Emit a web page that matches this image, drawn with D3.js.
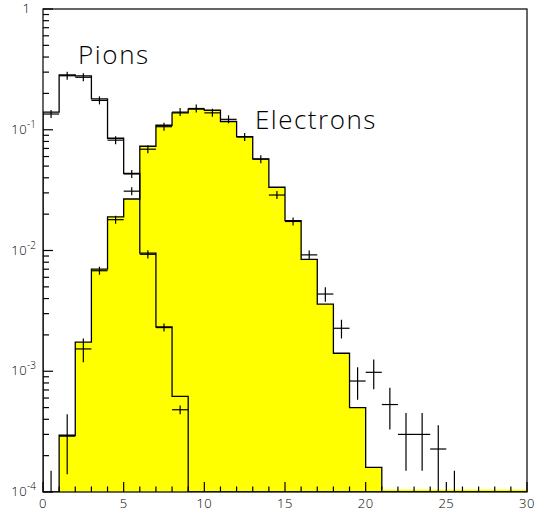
<!DOCTYPE html>
<html><head><meta charset="utf-8">
<script src="https://cdn.jsdelivr.net/npm/d3@7"></script>
<style>
html,body{margin:0;padding:0;background:#fff;}
svg{display:block;}
text{font-family:"Open Sans","Lato","DejaVu Sans",sans-serif;font-weight:300;fill:#000;}
</style></head>
<body>
<svg id="c" width="535" height="514"></svg>
<script>
// ---- data ----
const binEdgesStart = 0;          // first bin low edge
const binWidth = 1;
const xTicks = [0, 5, 10, 15, 20, 25, 30];
const yTickExps = [0, -1, -2, -3, -4];
const yTickLabels = ["1", "10|-1", "10|-2", "10|-3", "10|-4"];

// Pion histogram (bins 0..8, then empty)
const pionHist = [0.140, 0.284, 0.279, 0.180, 0.085, 0.0436, 0.0095, 0.00233, 0.00062,
  0, 0, 0, 0, 0, 0, 0, 0, 0, 0, 0, 0, 0, 0, 0, 0, 0, 0, 0, 0, 0];
// Pion data points
const pionX   = [0.5, 1.5, 2.5, 3.5, 4.5, 5.5, 6.5, 7.5, 8.5];
const pionY   = [0.135, 0.280, 0.272, 0.175, 0.082, 0.043, 0.0093, 0.0023, 0.00048];
const pionErr = [0.010, 0.018, 0.018, 0.012, 0.006, 0.003, 0.0007, 0.00017, 0.00004];

// Electron histogram (filled)
const elecHist = [0, 0.000295, 0.00174, 0.0070, 0.0190, 0.0267, 0.073, 0.109, 0.138, 0.148,
  0.145, 0.117, 0.0876, 0.0573, 0.0334, 0.0177, 0.00845, 0.0036, 0.00141, 0.00050,
  0.00016, 0, 0, 0, 0, 0, 0, 0, 0, 0];
// Electron data points
const elecX   = [0.5, 1.5, 2.5, 3.5, 4.5, 5.5, 6.5, 7.5, 8.5, 9.5, 10.5, 11.5, 12.5, 13.5,
  14.5, 15.5, 16.5, 17.5, 18.5, 19.5, 20.5, 21.5, 22.5, 23.5, 24.5, 25.5];
const elecY   = [0.000075, 0.00029, 0.00153, 0.0068, 0.018, 0.031, 0.069, 0.106, 0.140, 0.150,
  0.138, 0.122, 0.087, 0.057, 0.0288, 0.0174, 0.0092, 0.00436, 0.00227, 0.00083,
  0.00098, 0.00053, 0.00030, 0.00030, 0.000227, 0.000075];
const elecErr = [0.000075, 0.00015, 0.00034, 0.0005, 0.0013, 0.002, 0.004, 0.006, 0.007, 0.007,
  0.007, 0.006, 0.005, 0.0035, 0.002, 0.0013, 0.0008, 0.0006, 0.0004, 0.00025,
  0.00027, 0.0002, 0.00015, 0.00015, 0.00013, 0.000075];

// ---- layout ----
const L = 43, R = 527, T = 9, B = 492;
const svg = d3.select("#c");
const x = d3.scaleLinear().domain([0, 30]).range([L, R]);
const y = d3.scaleLog().domain([1e-4, 1]).range([B, T]);
const yv = v => v > 1e-4 ? y(v) : B;

svg.append("defs").append("clipPath").attr("id", "clip")
  .append("rect").attr("x", L).attr("y", T).attr("width", R - L).attr("height", B - T);

const g = svg.append("g").attr("clip-path", "url(#clip)");

function stepPath(vals) {
  const p = d3.path();
  p.moveTo(x(binEdgesStart), B);
  vals.forEach((v, i) => {
    const x0 = x(binEdgesStart + i * binWidth), x1 = x(binEdgesStart + (i + 1) * binWidth);
    p.lineTo(x0, yv(v));
    p.lineTo(x1, yv(v));
  });
  p.lineTo(x(binEdgesStart + vals.length * binWidth), B);
  return p.toString();
}

// electron filled histogram
g.append("path").attr("d", stepPath(elecHist))
  .attr("fill", "#ffff00").attr("stroke", "#000").attr("stroke-width", 1.3);
// thin yellow strip along bottom for empty trailing bins
let lastNZ = elecHist.length - 1;
while (lastNZ > 0 && elecHist[lastNZ] === 0) lastNZ--;
g.append("line").attr("x1", x(lastNZ + 1)).attr("x2", x(30))
  .attr("y1", B - 1.5).attr("y2", B - 1.5).attr("stroke", "#ffff00").attr("stroke-width", 2);

// pion histogram outline
g.append("path").attr("d", stepPath(pionHist))
  .attr("fill", "none").attr("stroke", "#000").attr("stroke-width", 1.3);

function crosses(xs, ys, es) {
  xs.forEach((xc, i) => {
    const v = ys[i], e = es[i];
    g.append("line").attr("x1", x(xc - binWidth / 2)).attr("x2", x(xc + binWidth / 2))
      .attr("y1", y(v)).attr("y2", y(v)).attr("stroke", "#000").attr("stroke-width", 1.2);
    const lo = Math.max(v - e, 1e-6);
    let y1 = y(v + e), y2 = y(lo);
    const mid = y(v);
    y1 = Math.min(y1, mid - 4); y2 = Math.max(y2, mid + 4);
    g.append("line").attr("x1", x(xc)).attr("x2", x(xc))
      .attr("y1", y1).attr("y2", y2).attr("stroke", "#000").attr("stroke-width", 1.2);
  });
}
crosses(pionX, pionY, pionErr);
crosses(elecX, elecY, elecErr);

// frame
svg.append("rect").attr("x", L).attr("y", T).attr("width", R - L).attr("height", B - T)
  .attr("fill", "none").attr("stroke", "#000").attr("stroke-width", 1.2);

// x ticks (inside)
const xMinor = d3.range(0, 31, 1);
xMinor.forEach(t => {
  const major = xTicks.includes(t);
  svg.append("line").attr("x1", x(t)).attr("x2", x(t)).attr("y1", B).attr("y2", B - (major ? 10 : 5.5))
    .attr("stroke", "#000").attr("stroke-width", 1.2);
});
xTicks.forEach(t => {
  svg.append("text").attr("x", x(t)).attr("y", 508).attr("text-anchor", "middle")
    .attr("font-size", 13).attr("letter-spacing", 0.5).text(t);
});

// y ticks (inside)
for (let e = -4; e < 0; e++) {
  for (let m = 2; m <= 9; m++) {
    const v = m * Math.pow(10, e);
    svg.append("line").attr("x1", L).attr("x2", L + 6).attr("y1", y(v)).attr("y2", y(v))
      .attr("stroke", "#000").attr("stroke-width", 1.2);
  }
}
yTickExps.forEach((e, i) => {
  const v = Math.pow(10, e);
  svg.append("line").attr("x1", L).attr("x2", L + 10).attr("y1", y(v)).attr("y2", y(v))
    .attr("stroke", "#000").attr("stroke-width", 1.2);
  const lab = yTickLabels[i];
  if (lab.indexOf("|") < 0) {
    svg.append("text").attr("x", 30).attr("y", y(v) + 3.5).attr("text-anchor", "end")
      .attr("font-size", 13).text(lab);
  } else {
    const [base, sup] = lab.split("|");
    const t = svg.append("text").attr("x", 36).attr("y", y(v) + 4).attr("text-anchor", "end")
      .attr("font-size", 13);
    t.append("tspan").attr("letter-spacing", 0.5).text(base);
    t.append("tspan").attr("font-size", 10).attr("dy", -6).text(sup);
  }
});

// labels
svg.append("text").attr("x", 78).attr("y", 64).attr("font-size", 26)
  .attr("letter-spacing", 1.6).text("Pions");
svg.append("text").attr("x", 255).attr("y", 129).attr("font-size", 26)
  .attr("letter-spacing", 1.5).text("Electrons");
</script>
</body></html>
